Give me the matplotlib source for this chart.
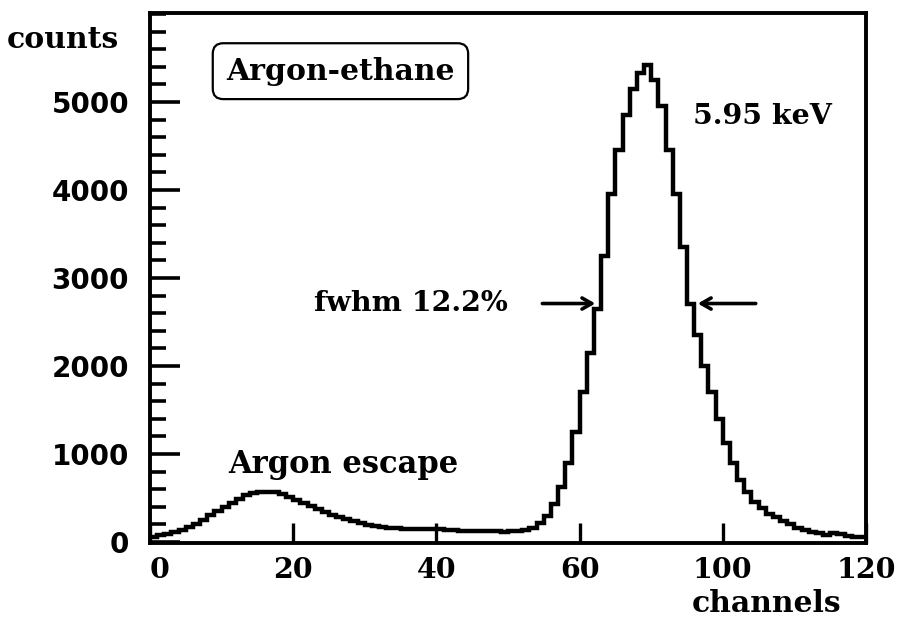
import numpy as np
import matplotlib
matplotlib.use("Agg")
import matplotlib.pyplot as plt
from matplotlib.ticker import MultipleLocator

# Histogram counts per channel (bins 0..99 on the drawn scale)
counts = [
    60, 80, 95, 110, 135, 170, 210, 255, 305, 355,
    400, 445, 490, 530, 560, 570, 570, 565, 545, 515,
    480, 445, 410, 375, 340, 305, 280, 260, 235, 215,
    195, 180, 170, 160, 155, 150, 150, 148, 147, 147,
    145, 140, 135, 130, 128, 125, 122, 120, 125, 118,
    122, 125, 135, 165, 220, 300, 430, 620, 900, 1250,
    1700, 2150, 2650, 3250, 3950, 4450, 4850, 5150, 5330, 5420,
    5250, 4950, 4450, 3950, 3350, 2700, 2350, 2000, 1700, 1400,
    1130, 900, 700, 570, 460, 390, 320, 280, 235, 200,
    160, 135, 115, 100, 75, 105, 95, 70, 62, 58,
]
bin_edges = np.arange(0, len(counts) + 1)

x_ticks = [0, 20, 40, 60, 80, 100]
x_tick_labels = ["0", "20", "40", "60", "100", "120"]
y_ticks = [0, 1000, 2000, 3000, 4000, 5000]
y_tick_labels = ["0", "1000", "2000", "3000", "4000", "5000"]

half_max = 2710

SERIF = "DejaVu Serif"
SANS = "DejaVu Sans"

fig = plt.figure(figsize=(9.02, 6.2), dpi=100)
ax = fig.add_axes([150 / 902, 77 / 620, 716 / 902, 530 / 620])

ax.stairs(counts, bin_edges, baseline=None, color="black", linewidth=3.2)

ax.set_xlim(0, 100)
ax.set_ylim(-11, 6011)

for s in ax.spines.values():
    s.set_linewidth(2.8)
    s.set_color("black")

ax.set_xticks(x_ticks)
ax.set_xticklabels(x_tick_labels, fontfamily=SERIF, fontweight="bold", fontsize=20.5)
ax.set_yticks(y_ticks)
ax.set_yticklabels(y_tick_labels, fontfamily=SANS, fontweight="bold", fontsize=20)
ax.yaxis.set_minor_locator(MultipleLocator(200))

ax.tick_params(axis="x", which="major", direction="in", length=14.5, width=2.4, pad=10)
ax.tick_params(axis="y", which="major", direction="in", length=21.5, width=2.6, pad=15)
ax.tick_params(axis="y", which="minor", direction="in", length=11.5, width=2.6)
ax.xaxis.get_majorticklabels()[0].set_horizontalalignment("left")

fig.text(63 / 902, 1 - 40 / 620, "counts", fontfamily=SERIF, fontweight="bold",
         fontsize=21.5, ha="center", va="center")
fig.text(767 / 902, 1 - 603 / 620, "channels", fontfamily=SERIF, fontweight="bold",
         fontsize=21.5, ha="center", va="center")

ax.text(26.6, 5350, "Argon-ethane", fontfamily=SERIF, fontweight="bold", fontsize=21.5,
        ha="center", va="center",
        bbox=dict(boxstyle="round,pad=0.45,rounding_size=0.35", facecolor="white",
                  edgecolor="black", linewidth=1.6))
ax.text(85.6, 4830, "5.95 keV", fontfamily=SERIF, fontweight="bold", fontsize=20.5,
        ha="center", va="center")
ax.text(36.5, half_max, "fwhm 12.2%", fontfamily=SERIF, fontweight="bold", fontsize=20.5,
        ha="center", va="center")
ax.text(27.0, 780, "Argon escape", fontfamily=SERIF, fontweight="bold", fontsize=22,
        ha="center", va="baseline")

arrow_kw = dict(arrowstyle="->,head_length=0.7,head_width=0.4", color="black",
                linewidth=2.6, shrinkA=0, shrinkB=0)
ax.annotate("", xy=(62.2, half_max), xytext=(54.8, half_max), arrowprops=arrow_kw)
ax.annotate("", xy=(76.5, half_max), xytext=(84.6, half_max), arrowprops=arrow_kw)

fig.savefig("out.png", dpi=100, facecolor="white")
